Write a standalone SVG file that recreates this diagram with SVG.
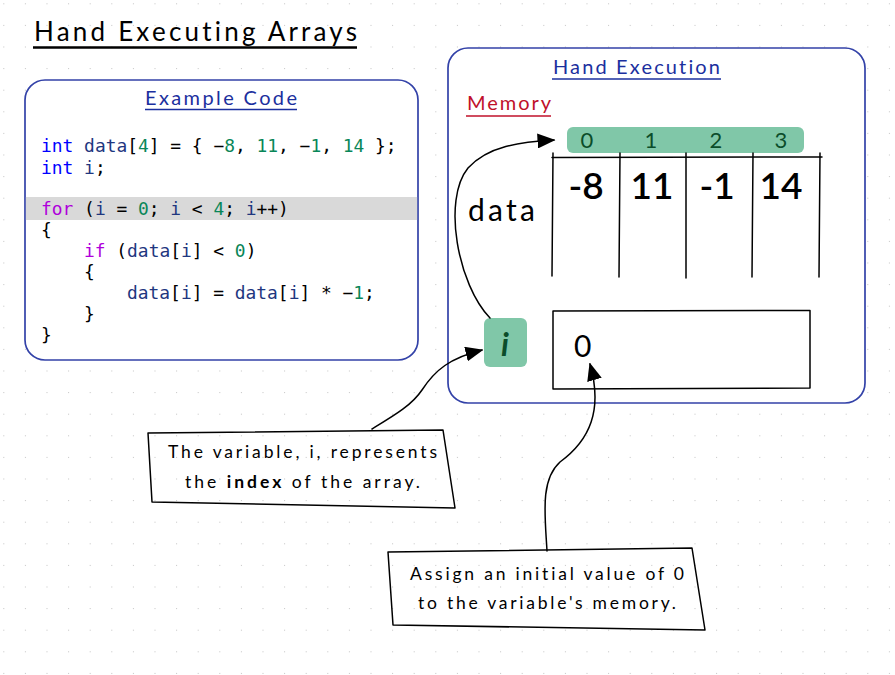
<svg xmlns="http://www.w3.org/2000/svg" width="895" height="675" viewBox="0 0 895 675">
<defs>
<pattern id="dots" x="3.3" y="3.3" width="21.6" height="21.6" patternUnits="userSpaceOnUse">
<rect x="-1" y="-1" width="2" height="2" fill="#c4c4c4"/>
</pattern>
<marker id="arr2" viewBox="0 0 12 10" refX="11" refY="5" markerWidth="18" markerHeight="15" markerUnits="userSpaceOnUse" orient="auto">
<path d="M0,0 L12,5 L0,10 z" fill="#000"/>
</marker>
</defs>
<style>
.hand{font-family:Lato,"Noto Sans",sans-serif;font-variant-ligatures:none;}
.code{font-family:"DejaVu Sans Mono",monospace;font-size:17.9px;fill:#000;white-space:pre;}
.kw{fill:#0000ff}.id{fill:#1f377f}.num{fill:#098658}.ctl{fill:#af00db}
.frame{fill:#fff;stroke:#3342a8;stroke-width:1.7}
.head{fill:#1b2f9e;font-size:20px}
.green{fill:#80c7a8}
.ink{fill:none;stroke:#000;stroke-width:1.5;stroke-linecap:round;stroke-linejoin:round}
.cell{font-size:37px;font-weight:600;fill:#000;text-anchor:middle}
.idx{font-size:22px;fill:#0b4d2a;text-anchor:middle}
.note{font-size:17.5px;fill:#000}
</style>
<rect width="895" height="675" fill="#fff"/>
<rect width="895" height="675" fill="url(#dots)"/>

<g id="title">
<text class="hand" x="34" y="41" font-size="26" textLength="323" lengthAdjust="spacing">Hand Executing Arrays</text>
<line x1="33" y1="47.5" x2="357" y2="47.5" stroke="#000" stroke-width="2.5"/>
</g>

<g id="code-panel">
<rect class="frame" x="25" y="80" width="393" height="280" rx="20"/>
<rect x="25.9" y="197" width="391.2" height="23" fill="#d9d9d9"/>
<text class="hand head" x="145" y="105" textLength="152" lengthAdjust="spacing">Example Code</text>
<line x1="145" y1="109.5" x2="297" y2="109.5" stroke="#1b2f9e" stroke-width="1.6"/>
<text class="code" x="41" y="152"><tspan class="kw">int</tspan> <tspan class="id">data</tspan>[<tspan class="num">4</tspan>] = { −<tspan class="num">8</tspan>, <tspan class="num">11</tspan>, −<tspan class="num">1</tspan>, <tspan class="num">14</tspan> };</text>
<text class="code" x="41" y="174"><tspan class="kw">int</tspan> <tspan class="id">i</tspan>;</text>
<text class="code" x="41" y="215"><tspan class="ctl">for</tspan> (<tspan class="id">i</tspan> = <tspan class="num">0</tspan>; <tspan class="id">i</tspan> &lt; <tspan class="num">4</tspan>; <tspan class="id">i</tspan>++)</text>
<text class="code" x="41" y="236">{</text>
<text class="code" x="84" y="257"><tspan class="ctl">if</tspan> (<tspan class="id">data</tspan>[<tspan class="id">i</tspan>] &lt; <tspan class="num">0</tspan>)</text>
<text class="code" x="84" y="278">{</text>
<text class="code" x="127" y="299"><tspan class="id">data</tspan>[<tspan class="id">i</tspan>] = <tspan class="id">data</tspan>[<tspan class="id">i</tspan>] * −<tspan class="num">1</tspan>;</text>
<text class="code" x="84" y="320">}</text>
<text class="code" x="41" y="341">}</text>
</g>

<g id="hand-execution">
<rect class="frame" x="448" y="48" width="417" height="355" rx="20"/>
<text class="hand head" x="553" y="74" textLength="167" lengthAdjust="spacing">Hand Execution</text>
<line x1="552" y1="79" x2="721" y2="79" stroke="#1b2f9e" stroke-width="1.6"/>
<text class="hand" x="467" y="110" font-size="20" fill="#c0102a" textLength="84" lengthAdjust="spacing">Memory</text>
<line x1="466" y1="116" x2="551" y2="116" stroke="#c0102a" stroke-width="1.6"/>
</g>

<g id="index-bar">
<rect class="green" x="567" y="127" width="237" height="26" rx="6"/>
<text class="hand idx" x="587" y="148">0</text>
<text class="hand idx" x="651" y="148">1</text>
<text class="hand idx" x="716" y="148">2</text>
<text class="hand idx" x="781" y="148">3</text>
</g>

<g id="data-array">
<text class="hand" x="468" y="221" font-size="30" textLength="67" lengthAdjust="spacing">data</text>
<path class="ink" d="M552 157.5 L822 157"/>
<path class="ink" d="M553 153 L552 276 M620 153 L619 277 M686 153 L686 278 M753 153 L752 277 M820 153 L819 277"/>
<text class="hand cell" x="586" y="199">-8</text>
<text class="hand cell" x="652" y="199">11</text>
<text class="hand cell" x="717" y="199">-1</text>
<text class="hand cell" x="781" y="199">14</text>
</g>

<g id="var-i">
<rect class="green" x="484" y="318" width="43" height="49" rx="6"/>
<text class="hand" x="505" y="356" font-size="32" font-style="italic" font-weight="bold" fill="#0b4d2a" text-anchor="middle">i</text>
</g>

<g id="var-i-memory">
<path class="ink" d="M553 311 L810 310.5 L810 388 L553 389 Z" stroke-width="1.8"/>
<text class="hand" x="574" y="357" font-size="30" fill="#000">0</text>
</g>

<g id="note-index">
<path class="ink" d="M148 433 L443 430 L455 508 L152 502 Z" fill="#fff"/>
<text class="hand note" x="168" y="458" textLength="269" lengthAdjust="spacing">The variable, i, represents</text>
<text class="hand note" x="185" y="488" textLength="235" lengthAdjust="spacing">the <tspan font-weight="bold">index</tspan> of the array.</text>
</g>

<g id="note-assign">
<path class="ink" d="M388 552 L692 548 L705 630 L393 625 Z" fill="#fff"/>
<text class="hand note" x="410" y="580" textLength="274" lengthAdjust="spacing">Assign an initial value of 0</text>
<text class="hand note" x="418" y="609" textLength="258" lengthAdjust="spacing">to the variable's memory.</text>
</g>

<g id="connectors">
<path class="ink" d="M490 318 C458 285 442 200 468 168 C488 146 520 142 554 140" marker-end="url(#arr2)"/>
<path class="ink" d="M372 429 C395 415 412 405 422 390 C435 370 450 358 482 350" marker-end="url(#arr2)"/>
<path class="ink" d="M547 551 C545 515 540 480 560 462 C590 440 603 410 590 364" marker-end="url(#arr2)"/>
</g>
</svg>
